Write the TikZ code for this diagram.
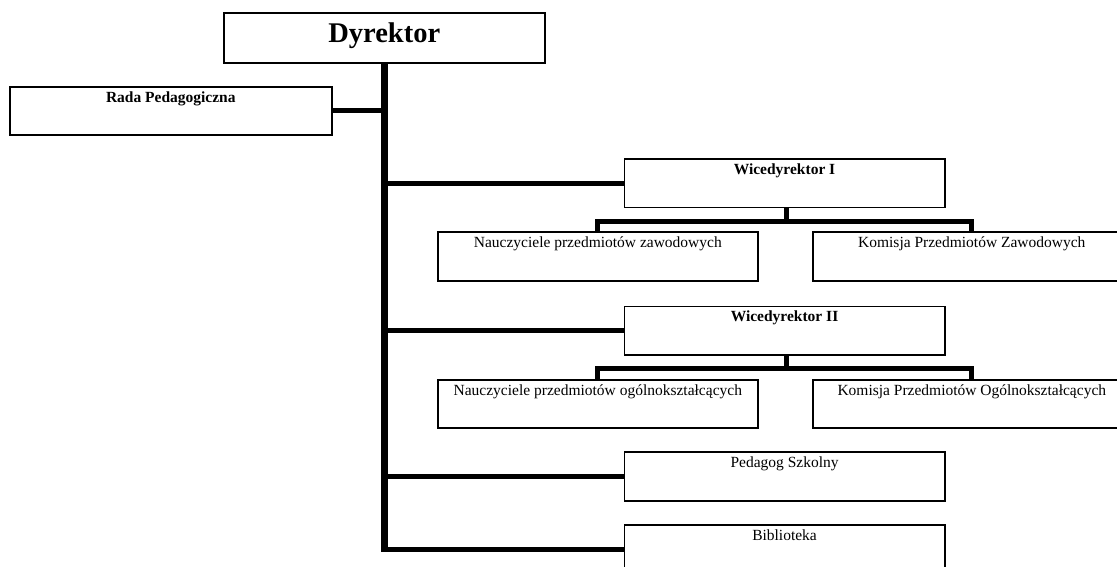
\documentclass[tikz,border=0pt]{standalone}
\usepackage{fontspec}
\setmainfont{Liberation Serif}
\usetikzlibrary{calc}
\begin{document}
\begin{tikzpicture}[x=1pt,y=-1pt,
  box/.style={draw, line width=1.6pt, fill=white, inner xsep=0pt, inner ysep=0pt,
    anchor=north west, text height=15.5pt, font=\fontsize{15.5}{17}\selectfont},
  bbox/.style={box, font=\fontsize{15.5}{17}\selectfont\bfseries},
  conn/.style={line width=5pt, line join=miter},
  trunkline/.style={line width=6.5pt}]
\useasboundingbox (0,0) rectangle (1117,566);
% boxes
\node[box, font=\fontsize{28.5}{30}\selectfont\bfseries, minimum width=321pt,
  text height=30pt, text depth=20pt] (dyr) at (223,12) {Dyrektor};
\node[bbox, minimum width=322pt, text depth=32.5pt] (rada) at (9,86) {Rada Pedagogiczna};
\node[bbox, minimum width=320.5pt, text depth=33pt] (w1) at (623.5,158) {Wicedyrektor I};
\node[box, minimum width=320pt, text depth=33.5pt] (n1) at (437,231) {Nauczyciele przedmiotów zawodowych};
\node[box, minimum width=318pt, text depth=33.5pt] (k1) at (812,231) {Komisja Przedmiotów Zawodowych};
\node[bbox, minimum width=320.5pt, text depth=33pt] (w2) at (623.5,305.5) {Wicedyrektor II};
\node[box, minimum width=320pt, text depth=32.5pt] (n2) at (437,379) {Nauczyciele przedmiotów ogólnokształcących};
\node[box, minimum width=318pt, text depth=32.5pt] (k2) at (812,379) {Komisja Przedmiotów Ogólnokształcących};
\node[box, minimum width=320.5pt, text depth=33.5pt] (ped) at (623.5,451) {Pedagog Szkolny};
\node[box, minimum width=320.5pt, text depth=33.5pt] (bib) at (623.5,524) {Biblioteka};
% trunk
\draw[trunkline] (dyr.south) -- (dyr.south |- bib.west);
% branches from trunk
\draw[conn] (rada.east) -- (dyr.south |- rada.east);
\draw[conn] (dyr.south |- w1.west) -- (w1.west);
\draw[conn] (dyr.south |- w2.west) -- (w2.west);
\draw[conn] (dyr.south |- ped.west) -- (ped.west);
\draw[conn] ($(dyr.south |- bib.west)+(-3.25,0)$) -- (bib.west);
% sub-branches of Wicedyrektor I
\draw[conn] ($(w1.south)+(1.5,0)$) -- ++(0,13) coordinate (b1);
\draw[conn] (n1.north) -- (n1.north |- b1) -- (k1.north |- b1) -- (k1.north);
% sub-branches of Wicedyrektor II
\draw[conn] ($(w2.south)+(1.5,0)$) -- ++(0,13) coordinate (b2);
\draw[conn] (n2.north) -- (n2.north |- b2) -- (k2.north |- b2) -- (k2.north);
\end{tikzpicture}
\end{document}
